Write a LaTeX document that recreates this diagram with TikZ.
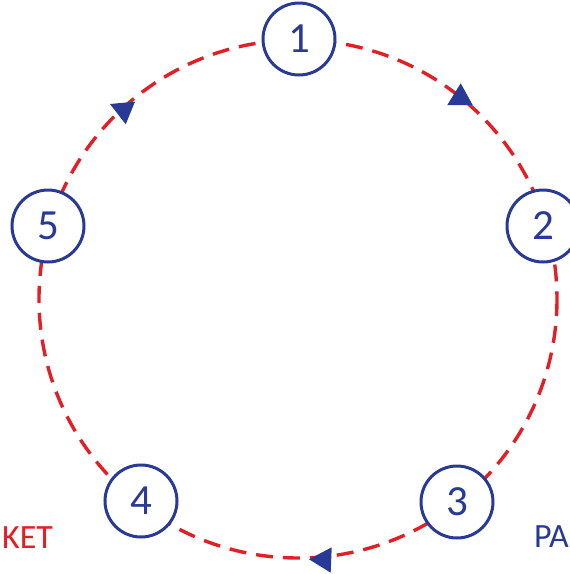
\documentclass[tikz,border=0pt]{standalone}
\usepackage{fontspec}
\setmainfont{Carlito}
\definecolor{cred}{RGB}{227,30,36}
\definecolor{cblue}{RGB}{40,58,150}
\begin{document}
\begin{tikzpicture}[x=1pt,y=-1pt,
  num/.style={circle,draw=cblue,line width=3pt,fill=white,minimum size=72pt,inner sep=0pt,text=cblue,font=\fontsize{43}{43}\selectfont},
  ring/.style={draw=cred,line width=3.4pt,dash pattern=on 17pt off 10pt},
  tri/.style={fill=cblue,draw=none},
  lbl/.style={font=\fontsize{34}{34}\selectfont,inner sep=0pt}]
\useasboundingbox (0,0) rectangle (570,574);
\coordinate (c) at (298,299);
\draw[ring] (c) circle (259);
\node[num] (n1) at (299,39) {1};
\node[num] (n2) at (543,226) {2};
\node[num] (n3) at (457,502) {3};
\node[num] (n4) at (141,501) {4};
\node[num] (n5) at (48,226) {5};
\fill[tri] (110,104) -- (135,101.7) -- (125.7,124.3) -- cycle;
\fill[tri] (460.7,83.3) -- (447.3,105) -- (472.7,105) -- cycle;
\fill[tri] (309,559.3) -- (331.7,547.3) -- (330.7,572.7) -- cycle;
\node[lbl,text=cred,anchor=base west] (mk) at (2,548) {KET};
\node[lbl,text=cblue,anchor=base east] (pa) at (569,547) {PA};
\end{tikzpicture}
\end{document}
